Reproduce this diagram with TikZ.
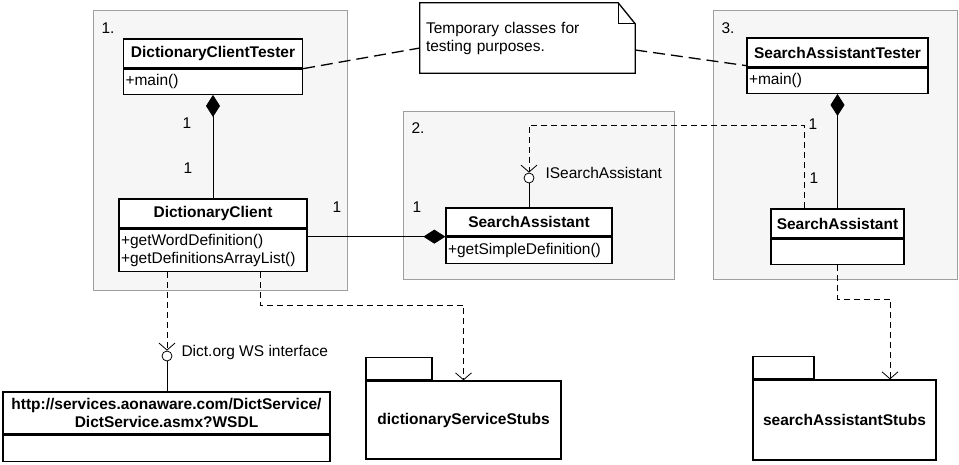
\documentclass[tikz,border=0pt]{standalone}
\usepackage{fontspec}
\setmainfont{Liberation Sans}
\usetikzlibrary{arrows.meta,positioning}
\tikzset{
 region/.style={draw=gray!75,fill=gray!7},
 chead/.style={draw,line width=1.3pt,fill=white,inner sep=0pt,font=\fontsize{15.5}{18}\selectfont\bfseries},
 cbody/.style={draw,line width=1.3pt,fill=white,anchor=north,inner sep=2pt,align=left},
 pkg/.style={draw,line width=1.3pt,fill=white,font=\fontsize{15.5}{18}\selectfont\bfseries},
 pkgtab/.style={draw,line width=1.3pt,fill=white,anchor=south west,minimum height=22pt,inner sep=0pt},
 ball/.style={circle,draw,thick,fill=white,minimum size=10pt,inner sep=0pt},
 comp/.style={thick,{Diamond[length=22pt,width=14pt]}-},
 dep/.style={thick,dash pattern=on 6pt off 4pt,-{Straight Barb[length=7pt,width=16pt]}},
 notelink/.style={line width=1.3pt,dash pattern=on 12pt off 6pt}
}
\begin{document}
\begin{tikzpicture}[x=1pt,y=-1pt,every node/.style={font=\fontsize{15.5}{18}\selectfont}]
 \useasboundingbox (0,0) rectangle (959,464);

 \draw[region] (93,10) rectangle (347,290);
 \draw[region] (403,111) rectangle (674,279);
 \draw[region] (713,10) rectangle (957,279);
 \node (r1) at (108,28) {1.};
 \node (r2) at (418,128) {2.};
 \node (r3) at (728,28) {3.};

 \node[chead,minimum width=179pt,minimum height=29pt] (dcth) at (213,53.5) {DictionaryClientTester};
 \node[cbody,minimum width=179pt,minimum height=25pt,text width=175pt] (dctb) at (dcth.south) {+main()};
 \node[chead,minimum width=188pt,minimum height=29pt] (dch) at (213,213.5) {DictionaryClient};
 \node[cbody,minimum width=188pt,minimum height=42pt,text width=184pt] (dcb) at (dch.south) {+getWordDefinition()\\+getDefinitionsArrayList()};

 \node[chead,minimum width=166pt,minimum height=28pt] (sah) at (529,222) {SearchAssistant};
 \node[cbody,minimum width=166pt,minimum height=26pt,text width=162pt] (sab) at (sah.south) {+getSimpleDefinition()};

 \node[chead,minimum width=181pt,minimum height=29pt] (sath) at (837.5,52.5) {SearchAssistantTester};
 \node[cbody,minimum width=181pt,minimum height=25pt,text width=177pt] (satb) at (sath.south) {+main()};
 \node[chead,minimum width=133pt,minimum height=29pt] (stubh) at (837.5,223.5) {SearchAssistant};
 \node[cbody,minimum width=133pt,minimum height=25pt] (stubb) at (stubh.south) {};

 \node[chead,minimum width=327pt,minimum height=42pt,align=center] (wsdlh) at (166.5,413) {http://services.aonaware.com/DictService/\\DictService.asmx?WSDL};
 \node[cbody,minimum width=327pt,minimum height=26pt] (wsdlb) at (wsdlh.south) {};

 \node[pkg,minimum width=195pt,minimum height=78pt] (dss) at (463.5,420) {dictionaryServiceStubs};
 \node[pkgtab,minimum width=66pt] (dsstab) at (dss.north west) {};
 \node[pkg,minimum width=183pt,minimum height=80pt] (sas) at (844.5,420) {searchAssistantStubs};
 \node[pkgtab,minimum width=61pt] (sastab) at (sas.north west) {};

 \node[minimum width=215pt,minimum height=70pt,text width=203pt,align=left] (note) at (527.5,38) {Temporary classes for\\testing purposes.};
 \draw[line width=1.3pt] (note.north west) -- ([xshift=-17pt]note.north east) -- ([yshift=-21pt]note.north east) -- (note.south east) -- (note.south west) -- cycle;
 \draw[line width=1.3pt] ([xshift=-17pt]note.north east) -- ([xshift=-17pt,yshift=-21pt]note.north east) -- ([yshift=-21pt]note.north east);

 \node[ball] (ball1) at (167,356) {};
 \node[ball] (ball2) at (529,178) {};
 \node[anchor=west] (iface1) at (178,352) {Dict.org WS interface};
 \node[anchor=west] (iface2) at (542,173) {ISearchAssistant};

 \node (m1) at (187,123) {1};
 \node (m2) at (188,168) {1};
 \node (m3) at (337,207) {1};
 \node (m4) at (417,207) {1};
 \node (m5) at (813,124) {1};
 \node (m6) at (814,178) {1};

 \draw[comp] (dctb.south) -- (dch.north);
 \draw[comp] (sah.south west) -- (dcb.east |- sah.south west);
 \draw[comp] (satb.south) -- (stubh.north);

 \draw[notelink] (dctb.north east) -- ([yshift=-10pt]note.west);
 \draw[notelink] ([yshift=-12pt]note.east) -- ([yshift=2pt]satb.north west);

 \draw[thick] (ball2) -- (sah);
 \draw[thick] (ball1) -- (ball1 |- wsdlh.north);
 \draw[dep] ([xshift=-46pt]dcb.south) -- (ball1.north);
 \draw[dep] ([xshift=47pt]dcb.south) -- ++(0,33) -| (dss.north);
 \draw[dep] ([xshift=-33.5pt]stubh.north) -- ++(0,-83) -| (ball2.north);
 \draw[dep] (stubb.south) -- ++(0,34) -| ([xshift=45.5pt]sas.north);

\end{tikzpicture}
\end{document}
